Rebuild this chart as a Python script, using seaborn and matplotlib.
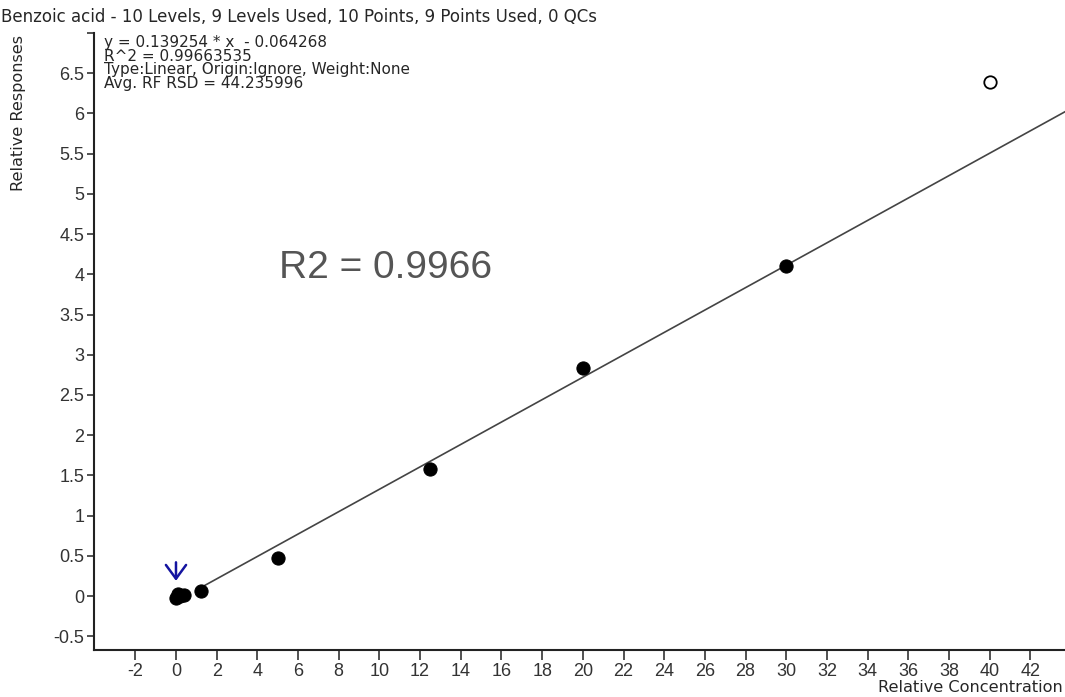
import pandas as pd
import seaborn as sns
import matplotlib.pyplot as plt

# calibration levels (relative concentration / relative response)
conc = [0.0, 0.1, 0.2, 0.4, 1.25, 5.0, 12.5, 20.0, 30.0, 40.0]
resp = [-0.02, 0.02, 0.0, 0.01, 0.06, 0.47, 1.58, 2.83, 4.10, 6.39]
status = ["used"] * 9 + ["excluded"]

# linear fit as reported by the software
slope = 0.139254
intercept = -0.064268
fit_x = [1.25, 44.0]

x_ticks = list(range(-2, 43, 2))
y_ticks = [-0.5, 0, 0.5, 1, 1.5, 2, 2.5, 3, 3.5, 4, 4.5, 5, 5.5, 6, 6.5, 7]
y_labels = ["-0.5", "0", "0.5", "1", "1.5", "2", "2.5", "3", "3.5", "4",
            "4.5", "5", "5.5", "6", "6.5", ""]

title = "Benzoic acid - 10 Levels, 9 Levels Used, 10 Points, 9 Points Used, 0 QCs"
info_lines = ["y = 0.139254 * x  - 0.064268",
              "R^2 = 0.99663535",
              "Type:Linear, Origin:Ignore, Weight:None",
              "Avg. RF RSD = 44.235996"]
r2_text = "R2 = 0.9966"

sns.set_style("ticks")
plt.rcParams["font.family"] = ["Liberation Sans", "DejaVu Sans"]
plt.rcParams["axes.unicode_minus"] = False
small = ["DejaVu Sans"]

W, H = 1065, 697
fig = plt.figure(figsize=(W / 100, H / 100), dpi=100)
ax = fig.add_axes([94 / W, (H - 650) / H, (W - 94) / W, (650 - 33) / H])

df = pd.DataFrame({"conc": conc, "resp": resp, "status": status})
fit = pd.DataFrame({"x": fit_x, "y": [slope * v + intercept for v in fit_x]})

sns.lineplot(data=fit, x="x", y="y", ax=ax, color="#444444", lw=1.2, zorder=2)
sns.scatterplot(data=df[df.status == "used"], x="conc", y="resp", ax=ax,
                color="black", edgecolor="black", s=90, zorder=3)
sns.scatterplot(data=df[df.status == "excluded"], x="conc", y="resp", ax=ax,
                facecolor="white", edgecolor="black", linewidth=1.3, s=80, zorder=3)

# marker for the first level
ax.annotate("", xy=(conc[0], 0.19), xytext=(conc[0], 0.42),
            arrowprops=dict(arrowstyle="->,head_length=0.45,head_width=0.33",
                            color="#1414a0", lw=1.8, mutation_scale=22,
                            shrinkA=0, shrinkB=0))

ax.set_xlim(-4.03, 43.7)
ax.set_ylim(-0.67, 7.0)
ax.set_xticks(x_ticks)
ax.set_yticks(y_ticks)
ax.set_yticklabels(y_labels)
ax.tick_params(axis="x", length=7, width=1.2, labelsize=13, colors="#333333", pad=2)
ax.tick_params(axis="y", length=5, width=1.2, labelsize=13, colors="#333333", pad=2)
ax.set_xlabel("")
ax.set_ylabel("")
sns.despine(ax=ax)
for s in ("left", "bottom"):
    ax.spines[s].set_linewidth(1.5)
    ax.spines[s].set_color("#222222")

fig.text(279 / W, 1 - 268 / H, r2_text, fontsize=28, color="#555555",
         va="center", ha="left")

fig.text(1 / W, 1 - 22 / H, title, fontsize=12, family=small, va="baseline", ha="left")
for i, line in enumerate(info_lines):
    fig.text(104 / W, 1 - (47 + 13.6 * i) / H, line, fontsize=11, family=small,
             va="baseline", ha="left")

fig.text(19 / W, 1 - 35 / H, "Relative Responses", rotation=90, fontsize=11.6,
         family=small, va="top", ha="center")
fig.text(1063 / W, 1 - 688 / H, "Relative Concentration", fontsize=11.6,
         family=small, va="center", ha="right")

fig.savefig("out.png", dpi=100)
